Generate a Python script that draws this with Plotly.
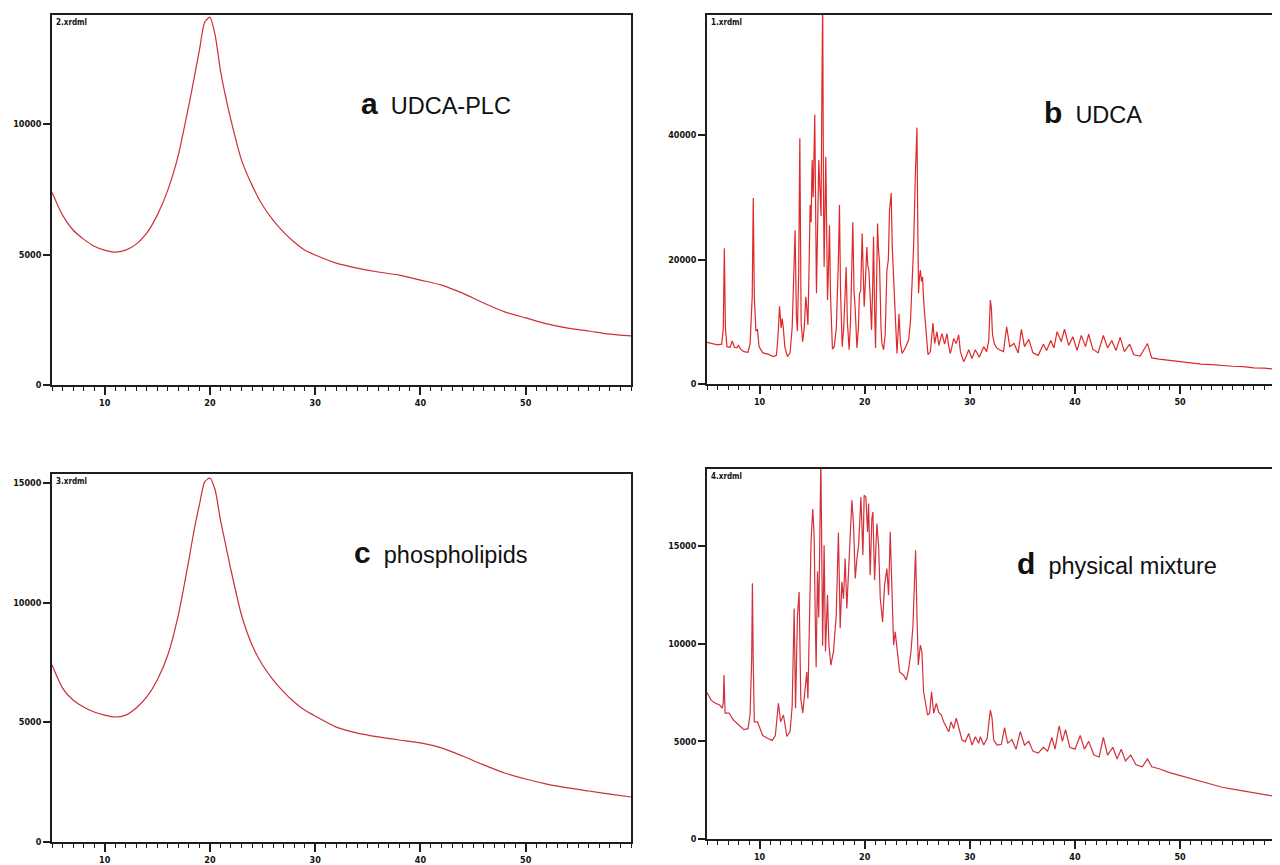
import plotly.graph_objects as go

# ---------------- data (2theta in degrees, counts) ----------------
two_theta_a = [5, 6, 7, 8, 9, 10, 11, 12, 13, 14, 15, 16, 17, 18, 18.5, 19, 19.5, 20, 20.5, 21, 21.5, 22, 23,
               24, 25, 26, 27, 28, 29, 30, 32, 34, 36, 38, 40, 42, 44, 46, 48, 50, 52, 54, 56, 58, 60]
counts_a = [7390, 6510, 5940, 5590, 5320, 5170, 5090, 5170, 5400, 5820, 6510, 7470, 8810, 10720, 11760, 12830,
            13900, 14100, 13400, 12060, 11030, 10150, 8620, 7660, 6890, 6320, 5860, 5480, 5170, 4980, 4670,
            4480, 4330, 4210, 4020, 3830, 3520, 3140, 2800, 2570, 2340, 2180, 2070, 1950, 1880]

two_theta_c = [5, 6, 7, 8, 9, 10, 11, 12, 13, 14, 15, 16, 17, 18, 18.5, 19, 19.5, 20, 20.5, 21, 21.5, 22, 23,
               24, 25, 26, 27, 28, 29, 30, 32, 34, 36, 38, 40, 42, 44, 46, 48, 50, 52, 54, 56, 58, 60]
counts_c = [7390, 6430, 5930, 5640, 5430, 5300, 5220, 5300, 5600, 6060, 6770, 7810, 9480, 11780, 13030, 14080,
            15040, 15200, 14700, 13450, 12400, 11360, 9480, 8230, 7390, 6770, 6270, 5850, 5510, 5260, 4800,
            4550, 4390, 4260, 4140, 3930, 3590, 3220, 2880, 2630, 2420, 2260, 2130, 2000, 1880]

two_theta_b = [5.0, 5.5, 6.0, 6.4, 6.55, 6.65, 6.75, 6.9, 7.2, 7.4, 7.6, 7.85, 8.0, 8.2, 8.5, 8.9, 9.1, 9.3,
               9.4, 9.5, 9.65, 9.8, 9.95, 10.3, 10.8, 11.3, 11.6, 11.75, 11.9, 12.05, 12.15, 12.25, 12.4,
               12.65, 12.9, 13.1, 13.25, 13.38, 13.5, 13.6, 13.72, 13.83, 13.95, 14.1, 14.25, 14.4, 14.5,
               14.6, 14.7, 14.81, 14.9, 15.0, 15.1, 15.25, 15.35, 15.41, 15.52, 15.63, 15.75, 15.85, 15.92,
               16.0, 16.08, 16.14, 16.22, 16.3, 16.38, 16.46, 16.55, 16.65, 16.75, 16.93, 17.1, 17.3, 17.5,
               17.6, 17.7, 17.86, 18.0, 18.24, 18.35, 18.52, 18.65, 18.87, 18.98, 19.1, 19.26, 19.4, 19.5,
               19.62, 19.76, 19.86, 19.95, 20.08, 20.2, 20.3, 20.4, 20.52, 20.65, 20.75, 20.84, 20.94, 21.03,
               21.12, 21.22, 21.3, 21.41, 21.55, 21.64, 21.8, 21.95, 22.11, 22.25, 22.36, 22.52, 22.62, 22.72,
               22.9, 23.07, 23.17, 23.26, 23.4, 23.55, 23.86, 24.18, 24.35, 24.5, 24.65, 24.81, 24.97, 25.05,
               25.12, 25.2, 25.29, 25.4, 25.5, 25.62, 25.76, 26.02, 26.25, 26.4, 26.49, 26.65, 26.87, 27.05,
               27.2, 27.35, 27.6, 27.83, 28.0, 28.14, 28.3, 28.46, 28.7, 28.94, 29.1, 29.41, 29.6, 29.89,
               30.2, 30.52, 30.9, 31.32, 31.6, 31.8, 31.95, 32.05, 32.15, 32.33, 32.55, 32.8, 33.2, 33.5,
               33.8, 34.2, 34.6, 34.9, 35.2, 35.6, 36.0, 36.5, 37.0, 37.3, 37.7, 38.0, 38.3, 38.7, 39.0,
               39.4, 39.8, 40.2, 40.6, 41.0, 41.3, 41.7, 42.2, 42.7, 43.1, 43.5, 43.9, 44.3, 44.7, 45.2,
               45.6, 46.2, 46.9, 47.3, 48, 49, 50, 51, 52, 53, 54, 55, 56, 57, 58, 59, 60]
counts_b = [6700, 6500, 6300, 6400, 9000, 21800, 9000, 6000, 5900, 6900, 5900, 5800, 6200, 5600, 5200, 5100,
            6500, 14000, 29900, 14000, 8500, 8800, 6000, 5000, 4800, 4400, 4600, 7500, 12500, 9000, 10500,
            9200, 6000, 4400, 5000, 9000, 16000, 24700, 11000, 8500, 18000, 39500, 10000, 6800, 9000, 14000,
            12000, 9500, 18000, 28750, 26000, 36000, 30000, 43300, 25000, 14600, 25000, 36000, 31000, 27000,
            45000, 62000, 30000, 18800, 28000, 36500, 25000, 13500, 18000, 25500, 14000, 5600, 6000, 9000,
            20000, 28750, 15000, 6000, 9000, 18800, 10000, 5500, 10000, 26000, 15000, 11900, 5800, 9000,
            14500, 15000, 24200, 16000, 12400, 17000, 22000, 19000, 18200, 14000, 8700, 15000, 23700, 12000,
            5800, 15000, 25800, 22000, 19400, 9000, 6500, 5500, 8000, 18200, 20000, 27900, 30700, 22000,
            18000, 11600, 4900, 8000, 11300, 6500, 4900, 5800, 7100, 10000, 16200, 22000, 33300, 41200,
            25000, 14600, 17000, 18300, 16500, 17200, 13000, 9800, 4700, 5200, 7500, 9800, 6500, 8400, 6200,
            7000, 8100, 6400, 8100, 6000, 4900, 6000, 7300, 6500, 7900, 5200, 3600, 4200, 5500, 4100, 5500,
            4300, 6000, 5200, 7000, 13500, 12200, 8000, 6500, 5800, 5500, 5200, 9200, 6000, 6500, 5000,
            8800, 6000, 7200, 5000, 4600, 6400, 5400, 7000, 5800, 8400, 6800, 8800, 6200, 7600, 5400, 7800,
            6000, 8000, 5600, 5000, 7800, 5800, 7000, 5400, 7500, 5200, 6400, 4700, 4500, 6500, 4200, 4000,
            3800, 3500, 3400, 3200, 3100, 2950, 2850, 2800, 2600, 2550, 2350, 2250]

two_theta_d = [5.0, 5.4, 5.8, 6.2, 6.45, 6.55, 6.62, 6.72, 7.1, 7.5, 8.0, 8.5, 8.9, 9.1, 9.25, 9.32, 9.4, 9.5,
               9.8, 10.3, 10.8, 11.2, 11.5, 11.79, 12.0, 12.27, 12.59, 12.9, 13.1, 13.29, 13.42, 13.6, 13.76,
               13.92, 14.11, 14.3, 14.49, 14.6, 14.81, 14.9, 15.06, 15.19, 15.29, 15.38, 15.51, 15.63, 15.83,
               15.92, 16.0, 16.14, 16.27, 16.46, 16.59, 16.78, 17.03, 17.29, 17.5, 17.67, 17.83, 17.98, 18.14,
               18.3, 18.46, 18.78, 18.94, 19.1, 19.26, 19.42, 19.64, 19.83, 19.95, 20.11, 20.27, 20.37, 20.52,
               20.68, 20.78, 20.94, 21.16, 21.32, 21.48, 21.7, 21.89, 22.11, 22.27, 22.43, 22.59, 22.75, 22.9,
               23.13, 23.32, 23.7, 23.95, 24.18, 24.4, 24.59, 24.71, 24.84, 24.97, 25.1, 25.29, 25.44, 25.6,
               25.98, 26.17, 26.36, 26.56, 26.81, 27.03, 27.29, 27.51, 27.76, 27.99, 28.21, 28.46, 28.71,
               28.94, 29.25, 29.57, 29.89, 30.21, 30.52, 30.84, 31.0, 31.32, 31.64, 31.95, 32.11, 32.27, 32.59,
               33.0, 33.3, 33.6, 34.0, 34.4, 34.8, 35.2, 35.6, 36.0, 36.5, 37.0, 37.4, 37.8, 38.1, 38.5, 38.8,
               39.1, 39.5, 40.0, 40.5, 40.9, 41.3, 41.8, 42.3, 42.7, 43.1, 43.6, 44.0, 44.4, 44.8, 45.3, 45.8,
               46.4, 46.9, 47.3, 48, 49, 50, 51, 52, 53, 54, 55, 56, 57, 58, 59, 60]
counts_d = [7500, 7100, 6950, 6860, 6700, 7000, 8400, 6450, 6450, 6100, 5850, 5600, 5650, 6400, 9200, 13100,
            9000, 6000, 6000, 5300, 5150, 5050, 5300, 6950, 6000, 6350, 5250, 5500, 6800, 11800, 6700, 11400,
            12650, 7200, 6450, 7550, 8550, 7200, 12300, 15300, 16900, 15550, 11500, 8800, 13700, 11350,
            19500, 15700, 9900, 15050, 9600, 12500, 10000, 8900, 9600, 11450, 15700, 10800, 13170, 12300,
            14360, 11810, 13500, 17350, 16070, 13340, 14360, 15050, 17520, 14540, 17610, 17520, 15730, 17180,
            13510, 16410, 16750, 13260, 16160, 15050, 12320, 11120, 13000, 13850, 12500, 15730, 12800, 9930,
            10610, 9590, 8560, 8390, 8140, 8700, 9590, 10950, 13170, 14790, 11460, 8910, 9930, 9590, 7540,
            6350, 6440, 7540, 6440, 6940, 6500, 6350, 6000, 5750, 5490, 6000, 5660, 6190, 5660, 5070, 4990,
            5410, 4810, 5240, 4900, 5240, 4810, 5150, 6600, 6200, 5070, 4810, 4850, 5700, 4900, 5100, 4600,
            5500, 4800, 5000, 4500, 4400, 4700, 4500, 5200, 4600, 5800, 5000, 5600, 4700, 4600, 5300, 4600,
            5000, 4300, 4200, 5200, 4300, 4700, 4100, 4600, 4000, 4300, 3800, 3700, 4100, 3700, 3600, 3400,
            3250, 3100, 2950, 2800, 2650, 2550, 2450, 2350, 2250, 2180, 2100]

panel_letters = ["a", "b", "c", "d"]
panel_names = ["UDCA-PLC", "UDCA", "phospholipids", "physical mixture"]
file_labels = ["2.xrdml", "1.xrdml", "3.xrdml", "4.xrdml"]
x_ticks = [10, 20, 30, 40, 50]
y_ticks = [[0, 5000, 10000], [0, 20000, 40000], [0, 5000, 10000, 15000], [0, 5000, 10000, 15000]]
y_max = [14180, 59300, 15370, 18950]
x_max = [60, 59.5, 60, 59.5]

# ---------------- layout geometry ----------------
# The page body has an 8px margin, so the figure is drawn from (8, 8) in the window.
OFF = 8
W, H = 1280 - OFF, 865 - OFF
boxes = [  # left, right, top, bottom in window pixels
    (52, 631, 15, 385),
    (707, 1280, 15, 384),
    (52, 631, 474, 842),
    (707, 1280, 469, 839),
]
title_pos = [(359, 103), (1042, 112), (352, 552), (1015, 563)]
line_colors = ["#cc3038", "#e02828", "#c8303a", "#d2303a"]


def fx(px):
    return (px - OFF) / W


def fy(py):
    return 1 - (py - OFF) / H


xs = [two_theta_a, two_theta_b, two_theta_c, two_theta_d]
ys = [counts_a, counts_b, counts_c, counts_d]

fig = go.Figure()
axis_col = "#1e1e1e"
tickfont = dict(family="Liberation Sans Narrow, DejaVu Sans Condensed, Liberation Sans, Arial",
                size=9, color="#111", weight="bold")
layout = {}
for i in range(4):
    sfx = "" if i == 0 else str(i + 1)
    fig.add_trace(go.Scatter(
        x=xs[i], y=ys[i], mode="lines",
        line=dict(color=line_colors[i], width=1.2,
                  shape="spline" if i in (0, 2) else "linear", smoothing=0.6),
        xaxis="x" + sfx, yaxis="y" + sfx, showlegend=False, hoverinfo="x+y"))
    l, r, t, b = boxes[i]
    layout["xaxis" + sfx] = dict(
        domain=[fx(l), min(fx(r), 1.0)], anchor="y" + sfx, range=[5, x_max[i]], automargin=False,
        tickvals=x_ticks, ticktext=[str(v) for v in x_ticks],
        ticks="outside", ticklen=8, tickwidth=1.5, tickcolor=axis_col,
        showline=True, linecolor=axis_col, linewidth=1.6, mirror=True,
        showgrid=False, zeroline=False, tickfont=tickfont,
        minor=dict(tickmode="linear", tick0=0, dtick=1, ticks="outside", ticklen=4,
                   tickwidth=1.2, tickcolor=axis_col, showgrid=False),
        fixedrange=True)
    layout["yaxis" + sfx] = dict(
        domain=[fy(b), fy(t)], anchor="x" + sfx, range=[0, y_max[i]], automargin=False,
        tickvals=y_ticks[i], ticktext=[str(v) for v in y_ticks[i]],
        ticks="outside", ticklen=7, tickwidth=1.5, tickcolor=axis_col,
        showline=True, linecolor=axis_col, linewidth=1.6, mirror=(i in (0, 2)),
        showgrid=False, zeroline=False, tickfont=tickfont, fixedrange=True)

annotations = []
for i in range(4):
    l, r, t, b = boxes[i]
    tx, ty = title_pos[i]
    annotations.append(dict(
        xref="paper", yref="paper", x=fx(tx), y=fy(ty), xanchor="left", yanchor="middle",
        text="<b><span style='font-size:30px'>" + panel_letters[i] + "</span></b>&nbsp;&nbsp;"
             + panel_names[i],
        showarrow=False, font=dict(family="Liberation Sans, Arial", size=23.5, color="#111")))
    annotations.append(dict(
        xref="paper", yref="paper", x=fx(l + 2), y=fy(t + 1), xanchor="left", yanchor="top",
        text="<b>" + file_labels[i] + "</b>", showarrow=False,
        font=dict(family="Liberation Sans Narrow, DejaVu Sans Condensed, Arial", size=8, color="#111")))

fig.update_layout(
    width=W, height=H, margin=dict(l=0, r=0, t=0, b=0, autoexpand=False),
    paper_bgcolor="white", plot_bgcolor="white",
    annotations=annotations, **layout)

fig.write_html("out.html")
